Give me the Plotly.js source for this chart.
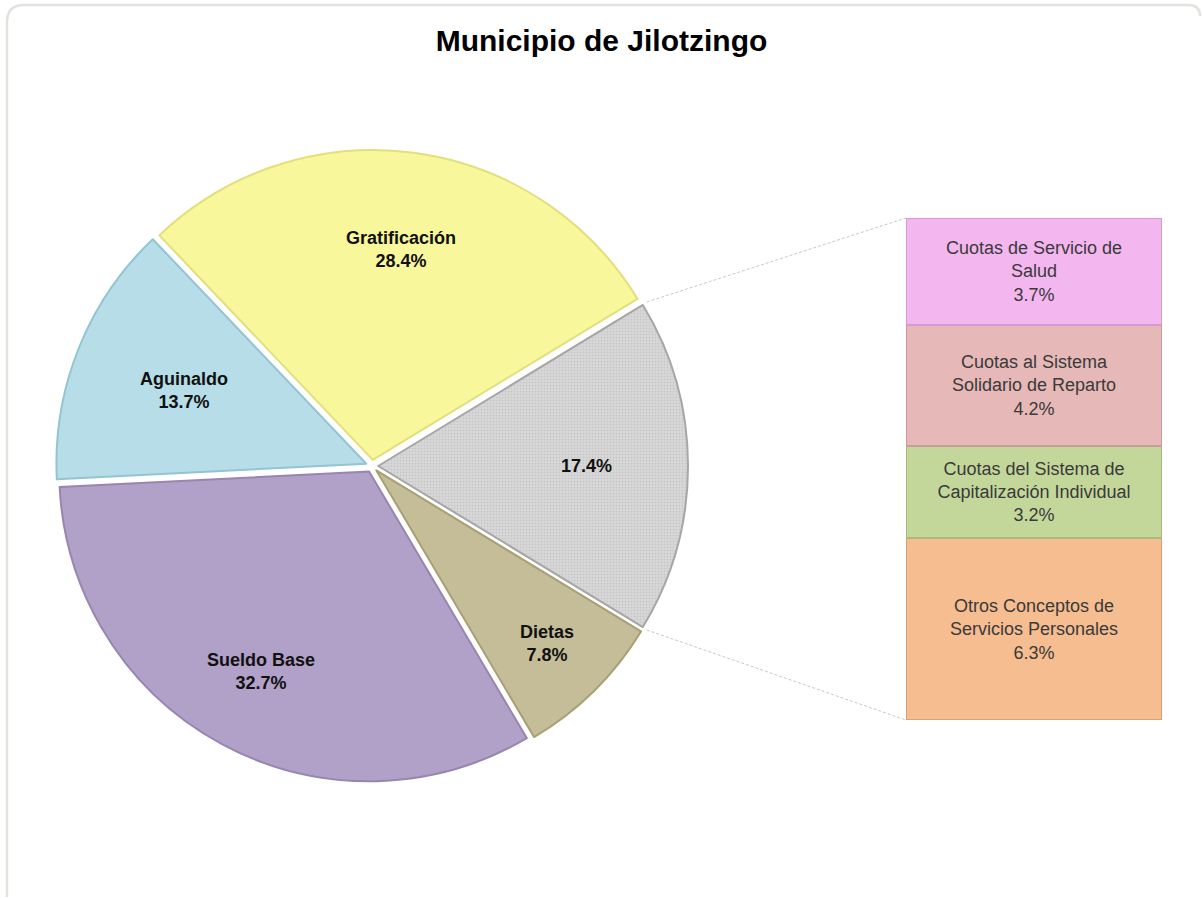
<!DOCTYPE html>
<html>
<head>
<meta charset="utf-8">
<script src="https://cdn.plot.ly/plotly-3.0.1.min.js"></script>
<style>html,body{margin:0;padding:0;background:#fff;}#chart{width:1203px;height:899px;}</style>
</head>
<body>
<div id="chart"></div>
<script>
// ---- data ----
var pieLabels = ["", "Dietas", "Sueldo Base", "Aguinaldo", "Gratificación"];
var pieValues = [17.4, 7.8, 32.7, 13.7, 28.4];
var barLabels = ["Cuotas de Servicio de<br>Salud", "Cuotas al Sistema<br>Solidario de Reparto", "Cuotas del Sistema de<br>Capitalización Individual", "Otros Conceptos de<br>Servicios Personales"];
var barValues = [3.7, 4.2, 3.2, 6.3];
var titleText = "Municipio de Jilotzingo";

// ---- styles ----
var pieColors = ["#D9D9D9", "#C4BD97", "#B1A0C7", "#B7DEE8", "#F9F79C"];
var pieLineColors = ["#A6A6A6", "#A89F74", "#9886B0", "#92C4D2", "#E2DF7C"];
var barColors = ["#F3B6EE", "#E6B8B7", "#C4D79B", "#F6BD90"];
var barLineColors = ["#D69AD2", "#C99C9B", "#A6BB7D", "#D9A073"];
var labelR = [0.68, 0.79, 0.74, 0.64, 0.69];
var fontFam = "Liberation Sans, Arial, sans-serif";

var W = 1203, H = 899;
var cx = 372, cy = 466, Rout = 316, pull = 0.02;
var barX0 = 906, barX1 = 1162, barTop = 218, barBot = 720;

function px2x(p){ return p / W; }
function px2y(p){ return 1 - p / H; }

var total = pieValues.reduce(function(a,b){return a+b;}, 0);
var firstSweep = pieValues[0] / total * 360;
var rotation = 90 - firstSweep / 2; // center first slice at 3 o'clock

var traces = [];
traces.push({
  type: "pie",
  values: pieValues,
  labels: pieLabels.map(function(l, i){ return l || ("Otros " + i); }),
  sort: false,
  direction: "clockwise",
  rotation: rotation,
  pull: pull,
  textinfo: "none",
  hoverinfo: "skip",
  marker: {
    colors: pieColors,
    line: {color: pieLineColors, width: 2},
    pattern: {shape: [".", "", "", "", ""], bgcolor: pieColors, fgcolor: ["#C6C6C6", "#C4BD97", "#B1A0C7", "#B7DEE8", "#F9F79C"], size: 3, solidity: 0.3, fillmode: "replace"}
  },
  domain: {x: [px2x(cx - Rout), px2x(cx + Rout)], y: [px2y(cy + Rout), px2y(cy - Rout)]},
  showlegend: false
});

// stacked bar, bottom to top
for (var i = barValues.length - 1; i >= 0; i--) {
  traces.push({
    type: "bar",
    x: [0],
    y: [barValues[i]],
    width: [1],
    name: barLabels[i],
    text: [barLabels[i] + "<br>" + barValues[i].toFixed(1) + "%"],
    textposition: "inside",
    insidetextanchor: "middle",
    textangle: 0,
    constraintext: "none",
    textfont: {family: fontFam, size: 18, color: "#3a3a3a"},
    marker: {color: barColors[i], line: {color: barLineColors[i], width: 2}},
    hoverinfo: "skip",
    showlegend: false,
    xaxis: "x", yaxis: "y"
  });
}

// pie labels as annotations along slice bisectors
var annotations = [];
var R = Rout / (1 + pull);
var acc = 0;
var pieAngles = [];
for (var k = 0; k < pieValues.length; k++) {
  var startDeg = rotation + acc / total * 360;        // clockwise from 12 o'clock
  var endDeg = rotation + (acc + pieValues[k]) / total * 360;
  pieAngles.push([startDeg, endDeg]);
  var mid = (startDeg + endDeg) / 2 * Math.PI / 180;
  var r = labelR[k] * Rout;
  var lx = cx + r * Math.sin(mid);
  var ly = cy - r * Math.cos(mid);
  var txt = (pieLabels[k] ? pieLabels[k] + "<br>" : "") + pieValues[k].toFixed(1) + "%";
  annotations.push({
    x: px2x(lx), y: px2y(ly), xref: "paper", yref: "paper",
    text: "<b>" + txt + "</b>", showarrow: false,
    font: {family: fontFam, size: 18, color: "#111"},
    xanchor: "center", yanchor: "middle", align: "center"
  });
  acc += pieValues[k];
}

// connector lines from first slice edges to bar corners
var shapes = [];
var a0 = pieAngles[0][0] * Math.PI / 180, a1 = pieAngles[0][1] * Math.PI / 180;
var midA = (a0 + a1) / 2;
var offx = pull * R * Math.sin(midA), offy = -pull * R * Math.cos(midA);
var p0 = [cx + offx + R * Math.sin(a0) + 4, cy + offy - R * Math.cos(a0) - 3];
var p1 = [cx + offx + R * Math.sin(a1) + 4, cy + offy - R * Math.cos(a1) + 3];
shapes.push({type: "line", xref: "paper", yref: "paper", x0: px2x(p0[0]), y0: px2y(p0[1]), x1: px2x(barX0), y1: px2y(barTop), line: {color: "#C8C8C8", width: 1, dash: "3px,2px"}});
shapes.push({type: "line", xref: "paper", yref: "paper", x0: px2x(p1[0]), y0: px2y(p1[1]), x1: px2x(barX0), y1: px2y(barBot), line: {color: "#C8C8C8", width: 1, dash: "3px,2px"}});
// outer chart frame
shapes.push({type: "path", xref: "paper", yref: "paper", layer: "below",
  path: "M " + px2x(7) + "," + px2y(897) + " L " + px2x(7) + "," + px2y(22) + " Q " + px2x(7) + "," + px2y(5) + " " + px2x(24) + "," + px2y(5) +
        " L " + px2x(1188) + "," + px2y(5) + " Q " + px2x(1200) + "," + px2y(5) + " " + px2x(1200) + "," + px2y(16),
  line: {color: "#E2E2DE", width: 2.5}});

var layout = {
  width: W, height: H,
  margin: {l: 0, r: 0, t: 0, b: 0},
  paper_bgcolor: "#ffffff", plot_bgcolor: "rgba(0,0,0,0)",
  title: {text: "<b>" + titleText + "</b>", font: {family: fontFam, size: 30, color: "#000"}, x: 0.5, xanchor: "center", y: px2y(40), yanchor: "middle"},
  barmode: "stack",
  xaxis: {domain: [px2x(barX0), px2x(barX1)], range: [-0.5, 0.5], visible: false, fixedrange: true},
  yaxis: {domain: [px2y(barBot), px2y(barTop)], range: [0, barValues.reduce(function(a,b){return a+b;},0)], visible: false, fixedrange: true},
  annotations: annotations,
  shapes: shapes,
  showlegend: false
};

Plotly.newPlot("chart", traces, layout, {displayModeBar: false, staticPlot: true});
</script>
</body>
</html>
